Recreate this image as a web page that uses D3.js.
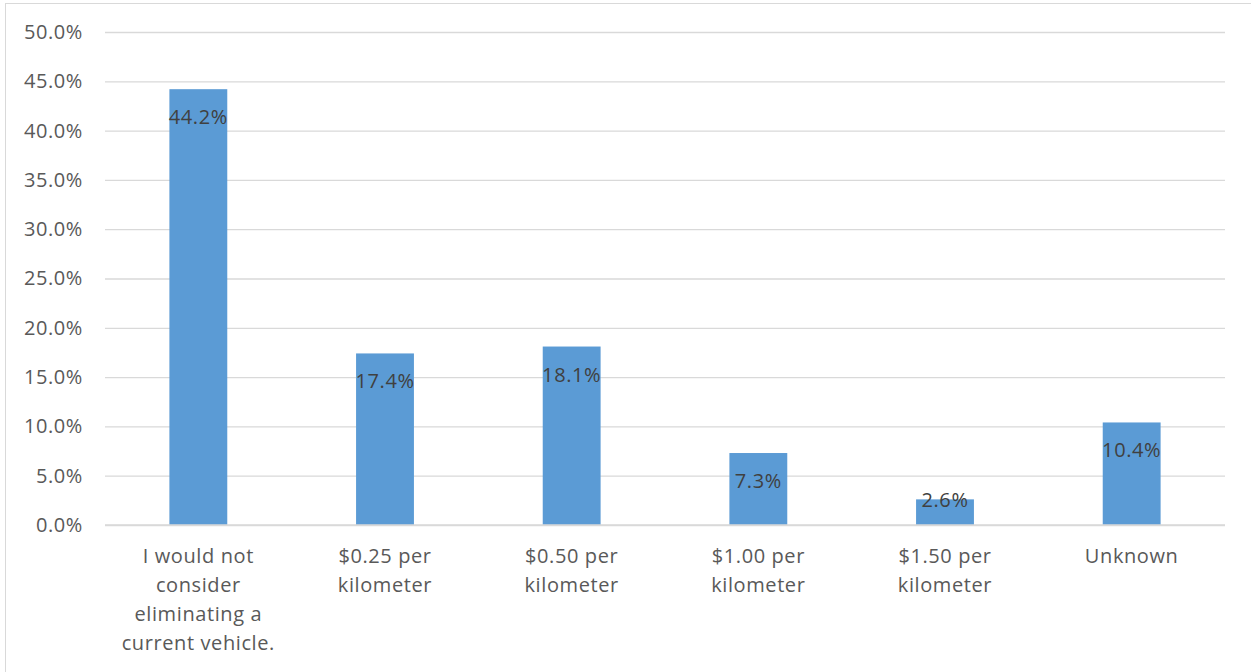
<!DOCTYPE html>
<html><head><meta charset="utf-8">
<script src="https://cdn.jsdelivr.net/npm/d3@7"></script>
<style>body{margin:0;background:#fff;} svg{display:block;font-family:"Open Sans",sans-serif;} text{letter-spacing:0.6px;}</style>
</head><body>
<svg id="c" width="1251" height="672"></svg>
<script>
const categories = [
  ["I would not","consider","eliminating a","current vehicle."],
  ["$0.25 per","kilometer"],
  ["$0.50 per","kilometer"],
  ["$1.00 per","kilometer"],
  ["$1.50 per","kilometer"],
  ["Unknown"]
];
const values = [44.2, 17.4, 18.1, 7.3, 2.6, 10.4];
const yTicks = [0,5,10,15,20,25,30,35,40,45,50];

const FS = 20;
const svg = d3.select("#c");
svg.append("rect").attr("x",5.5).attr("y",3.5).attr("width",1250).attr("height",680)
  .attr("fill","#fff").attr("stroke","#D9D9D9");

const m = {l:105, r:1225, t:32, b:525};
const x = d3.scaleBand().domain(d3.range(values.length)).range([m.l,m.r]).paddingInner(0.69).paddingOuter(0.345);
const y = d3.scaleLinear().domain([0,50]).range([m.b,m.t]);

const gy = svg.append("g").attr("transform",`translate(${m.l},0)`)
  .call(d3.axisLeft(y).tickValues(yTicks).tickFormat(d=>d.toFixed(1)+"%").tickSize(-(m.r-m.l)).tickPadding(22));
gy.select(".domain").remove();
gy.selectAll(".tick line").attr("stroke","#D9D9D9").attr("stroke-width",1.3);
gy.selectAll(".tick text").attr("fill","#595959").attr("font-size",FS).attr("font-family","Open Sans");

svg.append("g").selectAll("rect").data(values).join("rect")
  .attr("x",(d,i)=>x(i)).attr("width",x.bandwidth())
  .attr("y",d=>y(d)).attr("height",d=>y(0)-y(d)).attr("fill","#5B9BD5");

svg.append("line").attr("x1",m.l).attr("x2",m.r).attr("y1",y(0)).attr("y2",y(0)).attr("stroke","#D9D9D9").attr("stroke-width",1.3);

svg.append("g").selectAll("text").data(values).join("text")
  .attr("x",(d,i)=>x(i)+x.bandwidth()/2)
  .attr("y",d=>{const c = y(d)+28; return (c+10 > y(0)) ? y(d)+1 : c;})
  .attr("dy","0.35em").attr("text-anchor","middle").attr("fill","#404040").attr("font-size",FS)
  .text(d=>d.toFixed(1)+"%");

const gx = svg.append("g");
categories.forEach((lines,i)=>{
  const t = gx.append("text").attr("x",x(i)+x.bandwidth()/2).attr("text-anchor","middle")
    .attr("fill","#595959").attr("font-size",FS);
  lines.forEach((ln,j)=>t.append("tspan").attr("x",x(i)+x.bandwidth()/2).attr("y",556+29*j).attr("dy","0.35em").text(ln));
});
</script>
</body></html>
